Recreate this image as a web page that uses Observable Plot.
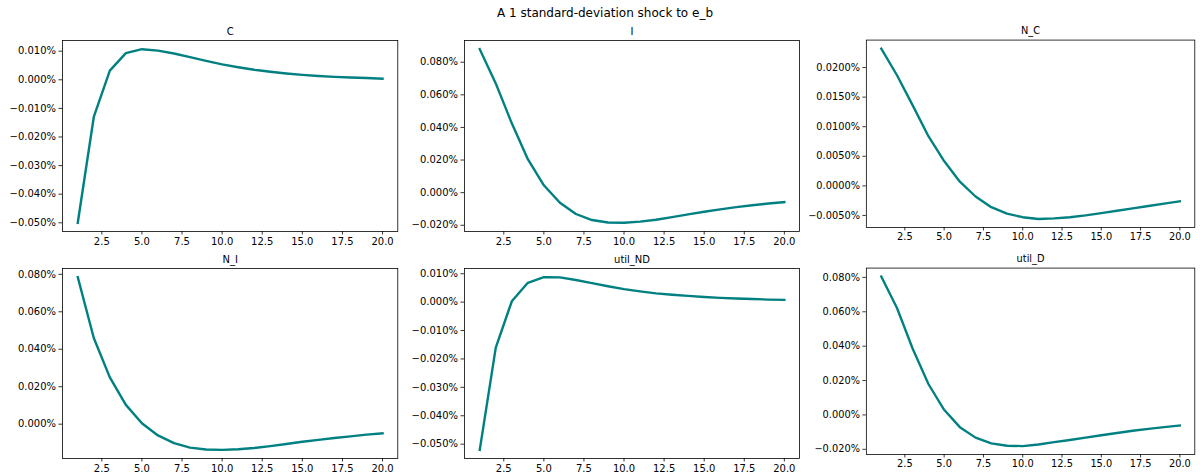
<!DOCTYPE html>
<html>
<head>
<meta charset="utf-8">
<script src="https://cdn.jsdelivr.net/npm/d3@7"></script>
<script src="https://cdn.jsdelivr.net/npm/@observablehq/plot@0.6"></script>
<style>
  body { margin: 0; background: #fff; }
  #fig { position: relative; width: 1200px; height: 474px; overflow: hidden; background: #fff; font-family: "DejaVu Sans", sans-serif; }
  #title { position: absolute; top: 6px; left: 405px; width: 400px; text-align: center; font-size: 12px; color: #000; line-height: 14px; }
  .panel { position: absolute; }
</style>
</head>
<body>
<div id="fig"><div id="title">A 1 standard-deviation shock to e_b</div></div>
<script>
// ---- data (values in percent) ----
const periods = [1, 2, 3, 4, 5, 6, 7, 8, 9, 10, 11, 12, 13, 14, 15, 16, 17, 18, 19, 20];
const xTicks = [2.5, 5, 7.5, 10, 12.5, 15, 17.5, 20];

const C       = [-0.0500, -0.0130, 0.0032, 0.0093, 0.0107, 0.0102, 0.0092, 0.0079, 0.0066, 0.0054, 0.0044, 0.0035, 0.0028, 0.0022, 0.0017, 0.0013, 0.0010, 0.0008, 0.0006, 0.0004];
const I       = [0.0880, 0.0670, 0.0425, 0.0205, 0.0045, -0.0062, -0.0131, -0.0168, -0.0183, -0.0185, -0.0178, -0.0166, -0.0150, -0.0133, -0.0117, -0.0103, -0.0089, -0.0077, -0.0067, -0.0058];
const N_C     = [0.0232, 0.0187, 0.0136, 0.0084, 0.0042, 0.0007, -0.0018, -0.0036, -0.0047, -0.0053, -0.0056, -0.0055, -0.0053, -0.0050, -0.0046, -0.0042, -0.0038, -0.0034, -0.0030, -0.0026];
const N_I     = [0.0785, 0.0460, 0.0250, 0.0103, 0.0005, -0.0060, -0.0101, -0.0125, -0.0135, -0.0137, -0.0134, -0.0127, -0.0117, -0.0106, -0.0094, -0.0084, -0.0074, -0.0065, -0.0056, -0.0049];
const util_ND = [-0.0520, -0.0160, 0.0003, 0.0068, 0.0088, 0.0087, 0.0078, 0.0067, 0.0056, 0.0046, 0.0038, 0.0031, 0.0026, 0.0022, 0.0018, 0.0015, 0.0013, 0.0011, 0.0009, 0.0008];
const util_D  = [0.0805, 0.0622, 0.0385, 0.0180, 0.0030, -0.0071, -0.0132, -0.0165, -0.0179, -0.0181, -0.0172, -0.0158, -0.0146, -0.0132, -0.0118, -0.0105, -0.0092, -0.0081, -0.0071, -0.0061];

const titles = ["C", "I", "N_C", "N_I", "util_ND", "util_D"];
const seriesList = [C, I, N_C, N_I, util_ND, util_D];
const yTicksC      = [-0.05, -0.04, -0.03, -0.02, -0.01, 0, 0.01];
const yTicksI      = [-0.02, 0, 0.02, 0.04, 0.06, 0.08];
const yTicksN_C    = [-0.005, 0, 0.005, 0.01, 0.015, 0.02];
const yTicksN_I    = [0, 0.02, 0.04, 0.06, 0.08];
const yTicksUtilND = [-0.05, -0.04, -0.03, -0.02, -0.01, 0, 0.01];
const yTicksUtilD  = [-0.02, 0, 0.02, 0.04, 0.06, 0.08];
const yTicksList = [yTicksC, yTicksI, yTicksN_C, yTicksN_I, yTicksUtilND, yTicksUtilD];
const decimals = [3, 3, 4, 3, 3, 3];

// ---- layout ----
const colL = [62, 464.1, 866.8], colR = [397.3, 799.2, 1201.5];
const rowT = [40, 268], rowB = [231, 458];
const mL = 62, mR = 6, mT = 22, mB = 24;

const fig = document.getElementById("fig");

seriesList.forEach((vals, k) => {
  const col = k % 3, row = Math.floor(k / 3);
  const L = colL[col], R = colR[col], T = rowT[row], B = rowB[row];
  const data = periods.map((p, i) => ({p, v: vals[i]}));
  const lo = d3.min(vals), hi = d3.max(vals), pad = (hi - lo) * 0.05;
  const fmt = d3.format(`.${decimals[k]}f`);
  const svg = Plot.plot({
    width: (R - L) + mL + mR,
    height: (B - T) + mT + mB,
    marginLeft: mL, marginRight: mR, marginTop: mT, marginBottom: mB,
    style: {fontFamily: "'DejaVu Sans', sans-serif", fontSize: "10px", background: "transparent", color: "#000", overflow: "visible"},
    x: {domain: [0.05, 20.95]},
    y: {domain: [lo - pad, hi + pad]},
    marks: [
      Plot.lineY(data, {x: "p", y: "v", stroke: "#008080", strokeWidth: 2.4, strokeLinejoin: "round", strokeLinecap: "square"}),
      Plot.frame({stroke: "#000", strokeWidth: 0.8}),
      Plot.axisX({ticks: xTicks, tickFormat: d3.format(".1f"), tickSize: 3.5, tickPadding: 2.5, label: null, fontSize: 10, strokeWidth: 0.8}),
      Plot.axisY({ticks: yTicksList[k], tickFormat: d => fmt(d) + "%", tickSize: 3.5, tickPadding: 3, label: null, fontSize: 10, strokeWidth: 0.8}),
      Plot.text([titles[k]], {frameAnchor: "top", lineAnchor: "middle", dy: -9, fontSize: 10, fill: "#000"})
    ]
  });
  const wrap = document.createElement("div");
  wrap.className = "panel";
  wrap.style.left = (L - mL) + "px";
  wrap.style.top = (T - mT) + "px";
  wrap.appendChild(svg);
  fig.appendChild(wrap);
});
</script>
</body>
</html>
